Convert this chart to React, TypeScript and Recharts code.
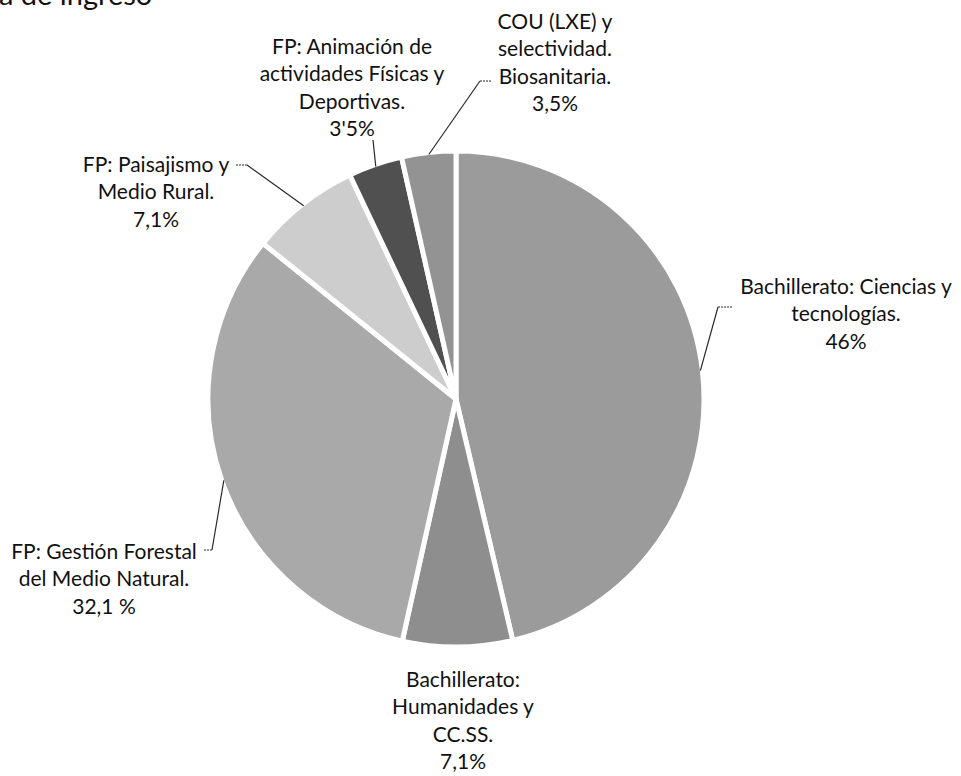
import React from "react";
import { PieChart, Pie, Cell } from "recharts";

const categories = [
  "Bachillerato: Ciencias y tecnologías.",
  "Bachillerato: Humanidades y CC.SS.",
  "FP: Gestión Forestal del Medio Natural.",
  "FP: Paisajismo y Medio Rural.",
  "FP: Animación de actividades Físicas y Deportivas.",
  "COU (LXE) y selectividad. Biosanitaria.",
];
const values = [46, 7.1, 32.1, 7.1, 3.5, 3.5];
const valueLabels = ["46%", "7,1%", "32,1 %", "7,1%", "3'5%", "3,5%"];
const labelLines = [
  ["Bachillerato: Ciencias y", "tecnologías."],
  ["Bachillerato:", "Humanidades y", "CC.SS."],
  ["FP: Gestión Forestal", "del Medio Natural."],
  ["FP: Paisajismo y", "Medio Rural."],
  ["FP: Animación de", "actividades Físicas y", "Deportivas."],
  ["COU (LXE) y", "selectividad.", "Biosanitaria."],
];
const title = "a de ingreso";

const colors = ["#9b9b9b", "#8e8e8e", "#a9a9a9", "#cdcdcd", "#505050", "#939393"];

// label layout relative to pie centre: text centre x, first line y; leader elbow / end
const layout = [
  { tx: 390, ty: -114, elbow: [262, -92], end: [276, -92] },
  { tx: 7, ty: 279, elbow: null, end: null },
  { tx: -352, ty: 151, elbow: [-244, 151], end: [-253, 151] },
  { tx: -300, ty: -236, elbow: [-209, -234], end: [-221, -234] },
  { tx: -104, ty: -354, elbow: [-83, -259], end: null },
  { tx: 99, ty: -379, elbow: [24, -318], end: [36, -318] },
];

const data = categories.map((name, i) => ({ name, value: values[i] }));

const RADIAN = Math.PI / 180;
const LINE_H = 27.5;

const renderLabel = (props: any) => {
  const { cx, cy, midAngle, outerRadius, index } = props;
  const l = layout[index];
  const lines = [...labelLines[index], valueLabels[index]];
  const r = outerRadius - 2;
  const ex = cx + r * Math.cos(-midAngle * RADIAN);
  const ey = cy + r * Math.sin(-midAngle * RADIAN);
  return (
    <g key={`lbl-${index}`}>
      {l.elbow && (
        <line
          x1={ex}
          y1={ey}
          x2={cx + l.elbow[0]}
          y2={cy + l.elbow[1]}
          stroke="#2a2a2a"
          strokeWidth={1.2}
        />
      )}
      {l.elbow && l.end && (
        <line
          x1={cx + l.elbow[0]}
          y1={cy + l.elbow[1]}
          x2={cx + l.end[0]}
          y2={cy + l.end[1]}
          stroke="#2a2a2a"
          strokeWidth={1.2}
          strokeDasharray="2 1"
        />
      )}
      {lines.map((t, k) => (
        <text
          key={k}
          x={cx + l.tx}
          y={cy + l.ty + k * LINE_H}
          textAnchor="middle"
          dominantBaseline="central"
          fontFamily="Lato, 'Noto Sans', sans-serif"
          fontSize={21}
          fill="#111"
        >
          {t}
        </text>
      ))}
    </g>
  );
};

export default function App() {
  return (
    <div style={{ position: "absolute", left: 0, top: 0, width: 961, height: 776, background: "#fff", overflow: "hidden" }}>
      <div
        style={{
          position: "absolute",
          left: -1,
          top: -24,
          fontFamily: "Lato, 'Noto Sans', sans-serif",
          fontSize: 29,
          color: "#111",
          whiteSpace: "nowrap",
        }}
      >
        {title}
      </div>
      <PieChart width={961} height={776} margin={{ top: 0, right: 0, bottom: 0, left: 0 }}>
        <Pie
          data={data}
          dataKey="value"
          nameKey="name"
          cx={456}
          cy={399}
          outerRadius={248}
          startAngle={90}
          endAngle={-270}
          stroke="#ffffff"
          strokeWidth={5}
          label={renderLabel}
          labelLine={false}
          isAnimationActive={false}
        >
          {data.map((d, i) => (
            <Cell key={d.name} fill={colors[i]} />
          ))}
        </Pie>
      </PieChart>
    </div>
  );
}
